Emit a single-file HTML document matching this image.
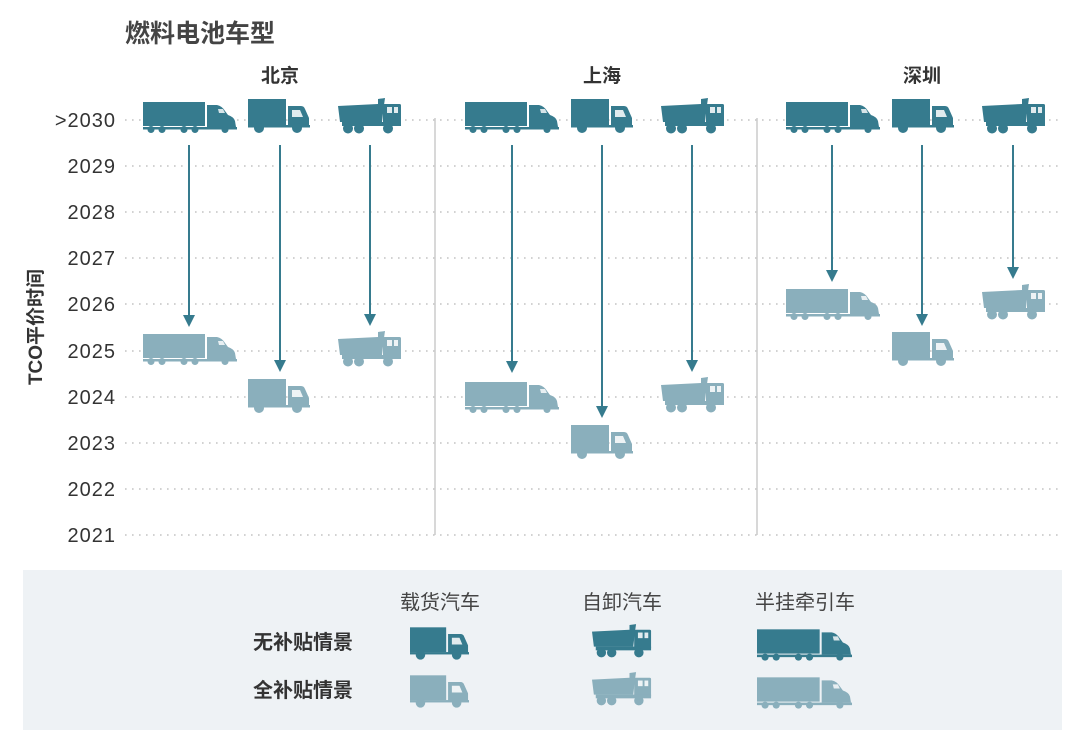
<!DOCTYPE html>
<html><head><meta charset="utf-8">
<style>
html,body{margin:0;padding:0;background:#fff;}
svg{display:block;}
text{font-family:"Liberation Sans","Noto Sans CJK SC",sans-serif;}
</style></head>
<body>
<svg width="1080" height="742" viewBox="0 0 1080 742" xmlns="http://www.w3.org/2000/svg">
<defs>
<symbol id="semi" viewBox="0 0 94 32">
  <rect x="0" y="1" width="62" height="24" fill="currentColor"/>
  <path d="M64,4 L74,4 Q79,5 82,10 L85,14 Q91,16 92,20 L93,26 L64,26 Z" fill="currentColor"/>
  <path d="M75,8 L80,8 L82,12 L76,12 Z" fill="#fff" opacity="0.8"/>
  <rect x="0" y="26" width="94" height="2.5" fill="currentColor"/>
  <circle cx="8" cy="28.5" r="3.5" fill="currentColor"/>
  <circle cx="19" cy="28.5" r="3.5" fill="currentColor"/>
  <circle cx="41" cy="28.5" r="3.5" fill="currentColor"/>
  <circle cx="52" cy="28.5" r="3.5" fill="currentColor"/>
  <circle cx="82" cy="28.5" r="3.5" fill="currentColor"/>
</symbol>
<symbol id="box" viewBox="0 0 62 34">
  <rect x="0" y="0" width="38" height="26" fill="currentColor"/>
  <path d="M40,7 L53,7 Q56,7 57,10 L61,19 L61,27 L40,27 Z" fill="currentColor"/>
  <path d="M44,11 L52,11 L55,18 L44,18 Z" fill="#fff" opacity="0.85"/>
  <rect x="0" y="26" width="62" height="2.5" fill="currentColor"/>
  <circle cx="11" cy="29" r="5" fill="currentColor"/>
  <circle cx="49" cy="29" r="5" fill="currentColor"/>
</symbol>
<symbol id="dump" viewBox="0 0 64 37">
  <path d="M0,9 L40,7 L40,2 L47,1 L46,8 L44,25 L2,25 Z" fill="currentColor"/>
  <rect x="45" y="7" width="18" height="21" rx="1.5" fill="currentColor"/>
  <rect x="49" y="10" width="5" height="6" fill="#fff" opacity="0.85"/>
  <rect x="56" y="10" width="4" height="6" fill="#fff" opacity="0.85"/>
  <rect x="4" y="25" width="59" height="4" fill="currentColor"/>
  <circle cx="10" cy="31.5" r="5" fill="currentColor"/>
  <circle cx="21" cy="31.5" r="5" fill="currentColor"/>
  <circle cx="50" cy="31.5" r="5" fill="currentColor"/>
</symbol>
</defs>

<text x="125" y="42" font-size="25" font-weight="bold" fill="#444">燃料电池车型</text>
<g font-size="19" font-weight="bold" fill="#333" text-anchor="middle">
<text x="280" y="82">北京</text>
<text x="602" y="82">上海</text>
<text x="922" y="82">深圳</text>
</g>

<g stroke="#c4c4c4" stroke-width="1.6" stroke-dasharray="1.6 5.4">
<line x1="125" y1="120" x2="1060" y2="120"/>
<line x1="125" y1="166" x2="1060" y2="166"/>
<line x1="125" y1="212" x2="1060" y2="212"/>
<line x1="125" y1="258" x2="1060" y2="258"/>
<line x1="125" y1="304" x2="1060" y2="304"/>
<line x1="125" y1="351" x2="1060" y2="351"/>
<line x1="125" y1="397" x2="1060" y2="397"/>
<line x1="125" y1="443" x2="1060" y2="443"/>
<line x1="125" y1="489" x2="1060" y2="489"/>
<line x1="125" y1="535" x2="1060" y2="535"/>
</g>
<line x1="435" y1="118" x2="435" y2="535" stroke="#ccc" stroke-width="1.5"/>
<line x1="757" y1="118" x2="757" y2="535" stroke="#ccc" stroke-width="1.5"/>

<g font-size="20" fill="#333" text-anchor="end" letter-spacing="1">
<text x="116" y="127">&gt;2030</text>
<text x="116" y="173">2029</text>
<text x="116" y="219">2028</text>
<text x="116" y="265">2027</text>
<text x="116" y="311">2026</text>
<text x="116" y="358">2025</text>
<text x="116" y="404">2024</text>
<text x="116" y="450">2023</text>
<text x="116" y="496">2022</text>
<text x="116" y="542">2021</text>
</g>
<text transform="translate(42,327) rotate(-90)" font-size="19" font-weight="bold" fill="#333" text-anchor="middle">TCO平价时间</text>

<g stroke="#367b8e" stroke-width="2">
<line x1="189" y1="145" x2="189" y2="318"/>
<line x1="280" y1="145" x2="280" y2="363"/>
<line x1="370" y1="145" x2="370" y2="317"/>
<line x1="512" y1="145" x2="512" y2="364"/>
<line x1="602" y1="145" x2="602" y2="409"/>
<line x1="692" y1="145" x2="692" y2="363"/>
<line x1="832" y1="145" x2="832" y2="273"/>
<line x1="922" y1="145" x2="922" y2="317"/>
<line x1="1013" y1="145" x2="1013" y2="270"/>
</g>
<g fill="#367b8e">
<path d="M183,315 h12 l-6,12 z"/>
<path d="M274,360 h12 l-6,12 z"/>
<path d="M364,314 h12 l-6,12 z"/>
<path d="M506,361 h12 l-6,12 z"/>
<path d="M596,406 h12 l-6,12 z"/>
<path d="M686,360 h12 l-6,12 z"/>
<path d="M826,270 h12 l-6,12 z"/>
<path d="M916,314 h12 l-6,12 z"/>
<path d="M1007,267 h12 l-6,12 z"/>
</g>

<g color="#367b8e">
<use href="#semi" x="143" y="101" width="94" height="32"/>
<use href="#box" x="248" y="99" width="62" height="34"/>
<use href="#dump" x="338" y="97" width="64" height="37"/>
<use href="#semi" x="465" y="101" width="94" height="32"/>
<use href="#box" x="571" y="99" width="62" height="34"/>
<use href="#dump" x="661" y="97" width="64" height="37"/>
<use href="#semi" x="786" y="101" width="94" height="32"/>
<use href="#box" x="892" y="99" width="62" height="34"/>
<use href="#dump" x="982" y="97" width="64" height="37"/>
</g>
<g color="#8aafbc">
<use href="#semi" x="143" y="333" width="94" height="32"/>
<use href="#box" x="248" y="379" width="62" height="34"/>
<use href="#dump" x="338" y="330" width="64" height="37"/>
<use href="#semi" x="465" y="381" width="94" height="32"/>
<use href="#box" x="571" y="425" width="62" height="34"/>
<use href="#dump" x="661" y="376" width="64" height="37"/>
<use href="#semi" x="786" y="288" width="94" height="32"/>
<use href="#box" x="892" y="332" width="62" height="34"/>
<use href="#dump" x="982" y="283" width="64" height="37"/>
</g>

<rect x="23" y="570" width="1039" height="160" fill="#eef2f5"/>
<g font-size="20" fill="#444" text-anchor="middle">
<text x="440" y="609">载货汽车</text>
<text x="622" y="609">自卸汽车</text>
<text x="805" y="609">半挂牵引车</text>
</g>
<g font-size="20" font-weight="bold" fill="#333" text-anchor="middle">
<text x="303" y="649">无补贴情景</text>
<text x="303" y="697">全补贴情景</text>
</g>
<g color="#367b8e">
<use href="#box" x="410" y="627" width="59" height="33"/>
<use href="#dump" x="592" y="623" width="60" height="35"/>
<use href="#semi" x="757" y="628" width="95" height="33"/>
</g>
<g color="#8aafbc">
<use href="#box" x="410" y="675" width="59" height="33"/>
<use href="#dump" x="592" y="671" width="60" height="35"/>
<use href="#semi" x="757" y="676" width="95" height="33"/>
</g>
</svg>
</body></html>
